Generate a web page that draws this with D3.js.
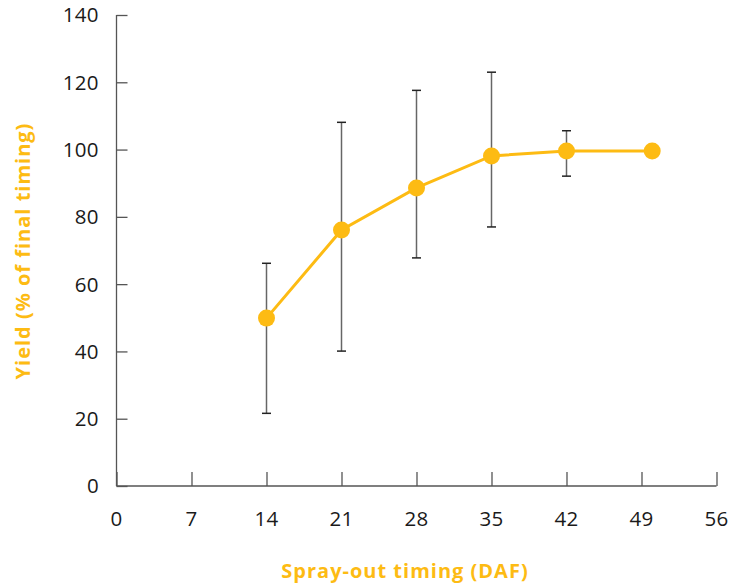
<!DOCTYPE html>
<html>
<head>
<meta charset="utf-8">
<script src="https://cdn.jsdelivr.net/npm/d3@7"></script>
<style>
  body { margin: 0; background: #fff; }
  svg text { font-family: "Open Sans", Lato, sans-serif; }
</style>
</head>
<body>
<div id="chart"></div>
<script>
// spray-out timing (days after flowering) and yield as % of final timing
const days = [14, 21, 28, 35, 42, 50];
const yieldPct = [49.9, 76.1, 88.6, 98.1, 99.6, 99.6];
const errLow = [21.6, 40.1, 67.8, 77.0, 92.1, null];
const errHigh = [66.2, 108.1, 117.6, 123.0, 105.6, null];
const xTicks = [0, 7, 14, 21, 28, 35, 42, 49, 56];
const yTicks = [0, 20, 40, 60, 80, 100, 120, 140];

const width = 738, height = 584;
const amber = '#FDBB13';

const svg = d3.select('#chart')
  .append('svg')
  .attr('width', width)
  .attr('height', height);

const x = d3.scaleLinear().domain([0, 56]).range([116.5, 716.5]);
const y = d3.scaleLinear().domain([0, 140]).range([486, 15]);

// --- AXES ---
const xAxis = svg.append('g')
  .attr('transform', `translate(0,${y(0)})`)
  .call(d3.axisTop(x).tickValues(xTicks).tickSize(14).tickFormat(''));
xAxis.select('.domain').attr('d', `M${x(0)},0H${x(56)}`);

const yAxis = svg.append('g')
  .attr('transform', `translate(${x(0)},0)`)
  .call(d3.axisRight(y).tickValues(yTicks).tickSize(11).tickFormat(''));
yAxis.select('.domain').attr('d', `M0,${y(0)}V${y(140)}`);

svg.selectAll('.domain, .tick line')
  .attr('stroke', '#555')
  .attr('stroke-width', 1.3);

// tick labels
svg.append('g').selectAll('text')
  .data(xTicks)
  .join('text')
  .attr('x', d => x(d))
  .attr('y', 526)
  .attr('text-anchor', 'middle')
  .attr('font-size', 20.5)
  .attr('letter-spacing', 0.4)
  .attr('fill', '#1a1a1a')
  .text(d => d);

svg.append('g').selectAll('text')
  .data(yTicks)
  .join('text')
  .attr('x', 99)
  .attr('y', d => y(d))
  .attr('dy', '0.36em')
  .attr('text-anchor', 'end')
  .attr('font-size', 20.5)
  .attr('letter-spacing', 0.4)
  .attr('fill', '#1a1a1a')
  .text(d => d);

// axis titles
svg.append('text')
  .attr('x', 405)
  .attr('y', 578)
  .attr('text-anchor', 'middle')
  .attr('font-size', 20)
  .attr('font-weight', 700)
  .attr('letter-spacing', 1)
  .attr('fill', amber)
  .text('Spray-out timing (DAF)');

svg.append('text')
  .attr('transform', 'translate(30,251) rotate(-90)')
  .attr('text-anchor', 'middle')
  .attr('font-size', 20)
  .attr('font-weight', 700)
  .attr('letter-spacing', 1)
  .attr('fill', amber)
  .text('Yield (% of final timing)');

// --- ERROR BARS ---
const bars = days.map((d, i) => ({ d, lo: errLow[i], hi: errHigh[i] }))
  .filter(b => b.lo != null);

const eb = svg.append('g');
eb.selectAll('line.stem')
  .data(bars)
  .join('line')
  .attr('class', 'stem')
  .attr('x1', b => x(b.d)).attr('x2', b => x(b.d))
  .attr('y1', b => y(b.lo)).attr('y2', b => y(b.hi))
  .attr('stroke', '#666')
  .attr('stroke-width', 1.5);

eb.selectAll('line.cap')
  .data(bars.flatMap(b => [{ d: b.d, v: b.lo }, { d: b.d, v: b.hi }]))
  .join('line')
  .attr('class', 'cap')
  .attr('x1', c => x(c.d) - 4.5).attr('x2', c => x(c.d) + 4.5)
  .attr('y1', c => y(c.v)).attr('y2', c => y(c.v))
  .attr('stroke', '#222')
  .attr('stroke-width', 1.5);

// --- LINE + POINTS ---
const pts = days.map((d, i) => ({ d, v: yieldPct[i] }));

svg.append('path')
  .datum(pts)
  .attr('fill', 'none')
  .attr('stroke', amber)
  .attr('stroke-width', 3)
  .attr('d', d3.line().x(p => x(p.d)).y(p => y(p.v)));

svg.append('g').selectAll('circle')
  .data(pts)
  .join('circle')
  .attr('cx', p => x(p.d))
  .attr('cy', p => y(p.v))
  .attr('r', 8.5)
  .attr('fill', amber);
</script>
</body>
</html>
